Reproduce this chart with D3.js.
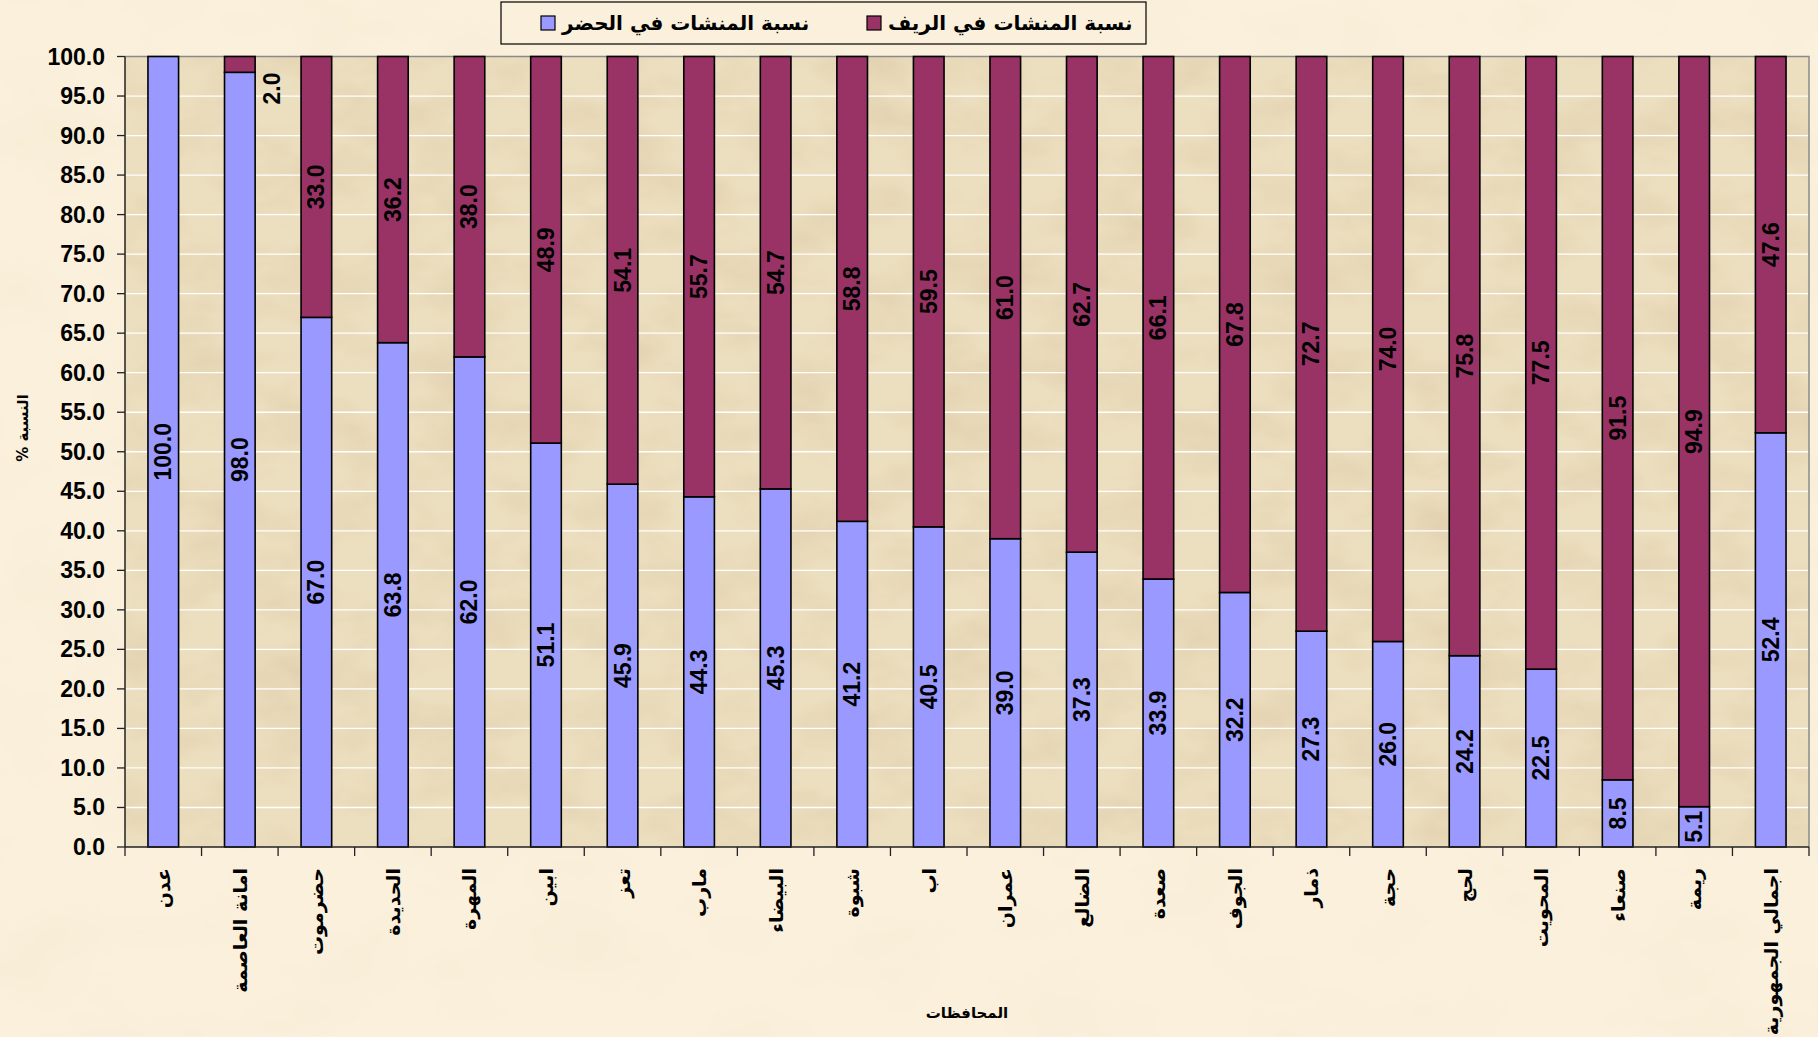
<!DOCTYPE html>
<html>
<head>
<meta charset="utf-8">
<script src="https://cdn.jsdelivr.net/npm/d3@7"></script>
<style>
  html, body { margin: 0; padding: 0; background: #f9eedb; }
  svg { display: block; }
</style>
</head>
<body>
<div id="chart"></div>
<script>
// المحافظات
const categories = ['عدن', 'امانة العاصمة', 'حضرموت', 'الحديدة', 'المهرة', 'ابين', 'تعز', 'مارب', 'البيضاء', 'شبوة', 'اب',
  'عمران', 'الضالع', 'صعدة', 'الجوف', 'ذمار', 'حجة', 'لحج', 'المحويت', 'صنعاء', 'ريمة', 'اجمالي الجمهورية']
// نسبة المنشات في الحضر
const urban = [100.0, 98.0, 67.0, 63.8, 62.0, 51.1, 45.9, 44.3, 45.3, 41.2, 40.5, 39.0, 37.3, 33.9, 32.2, 27.3, 26.0, 24.2, 22.5, 8.5, 5.1, 52.4]
// نسبة المنشات في الريف
const rural = [0.0, 2.0, 33.0, 36.2, 38.0, 48.9, 54.1, 55.7, 54.7, 58.8, 59.5, 61.0, 62.7, 66.1, 67.8, 72.7, 74.0, 75.8, 77.5, 91.5, 94.9, 47.6]
const seriesNames = ['نسبة المنشات في الحضر', 'نسبة المنشات في الريف']
const yTicks = [0, 5, 10, 15, 20, 25, 30, 35, 40, 45, 50, 55, 60, 65, 70, 75, 80, 85, 90, 95, 100]

const W = 1818
const H = 1037
const plotLeft = 125
const plotRight = 1809
const plotTop = 56.5
const plotBottom = 847
const colors = ['#9999ff', '#993366']
const numFont = '"Liberation Sans", Arial, sans-serif'
const arFont = '"DejaVu Sans", "Liberation Sans", sans-serif'

const svg = d3.select('#chart').append('svg')
  .attr('width', W)
  .attr('height', H)
  .attr('viewBox', `0 0 ${W} ${H}`)

const defs = svg.append('defs')
const paper = defs.append('filter').attr('id', 'paper')
  .attr('x', 0).attr('y', 0).attr('width', 1).attr('height', 1)
paper.append('feTurbulence')
  .attr('type', 'fractalNoise')
  .attr('baseFrequency', '0.012 0.02')
  .attr('numOctaves', 4)
  .attr('seed', 7)
paper.append('feColorMatrix')
  .attr('type', 'matrix')
  .attr('values', '0 0 0 0 0.72  0 0 0 0 0.58  0 0 0 0 0.38  1.1 0 0 0 -0.42')
const paperLight = defs.append('filter').attr('id', 'paperLight')
  .attr('x', 0).attr('y', 0).attr('width', 1).attr('height', 1)
paperLight.append('feTurbulence')
  .attr('type', 'fractalNoise')
  .attr('baseFrequency', '0.008 0.012')
  .attr('numOctaves', 3)
  .attr('seed', 2)
paperLight.append('feColorMatrix')
  .attr('type', 'matrix')
  .attr('values', '0 0 0 0 0.9  0 0 0 0 0.8  0 0 0 0 0.6  0.6 0 0 0 -0.25')

// page background
svg.append('rect').attr('width', W).attr('height', H).attr('fill', '#faf0dc')
svg.append('rect').attr('width', W).attr('height', H).attr('fill', '#fff').attr('filter', 'url(#paperLight)')

const x = d3.scaleBand().domain(categories).range([plotLeft, plotRight]).padding(0)
const y = d3.scaleLinear().domain([0, 100]).range([plotBottom, plotTop])
const barW = x.bandwidth() * 0.4

// plot area
svg.append('rect')
  .attr('x', plotLeft).attr('y', plotTop)
  .attr('width', plotRight - plotLeft).attr('height', plotBottom - plotTop)
  .attr('fill', '#ecdfbf')
svg.append('rect')
  .attr('x', plotLeft).attr('y', plotTop)
  .attr('width', plotRight - plotLeft).attr('height', plotBottom - plotTop)
  .attr('fill', '#fff')
  .attr('filter', 'url(#paper)')

// gridlines
svg.append('g')
  .selectAll('line')
  .data(yTicks.filter(d => d > 0 && d < 100))
  .join('line')
  .attr('x1', plotLeft).attr('x2', plotRight)
  .attr('y1', d => y(d)).attr('y2', d => y(d))
  .attr('stroke', '#ffffff')
  .attr('stroke-width', 1.3)

// plot border (top & right grey)
svg.append('path')
  .attr('d', `M${plotLeft},${plotTop}H${plotRight}V${plotBottom}`)
  .attr('fill', 'none')
  .attr('stroke', '#8a8a8a')
  .attr('stroke-width', 1.5)

// bars
const rows = categories.map((c, i) => ({ c, u: urban[i], r: rural[i] }))
const barG = svg.append('g')
rows.forEach(d => {
  const cx = x(d.c) + x.bandwidth() / 2
  const segs = [
    { v: d.u, y0: 0, y1: d.u, color: colors[0] },
    { v: d.r, y0: d.u, y1: d.u + d.r, color: colors[1] }
  ]
  segs.forEach(s => {
    if (s.v <= 0) return
    barG.append('rect')
      .attr('x', cx - barW / 2)
      .attr('y', y(s.y1))
      .attr('width', barW)
      .attr('height', y(s.y0) - y(s.y1))
      .attr('fill', s.color)
      .attr('stroke', '#000')
      .attr('stroke-width', 1.6)
  })
  segs.forEach(s => {
    if (s.v <= 0) return
    let lx = cx
    let ly = (y(s.y0) + y(s.y1)) / 2
    if (s.v < 4) {
      // too small to hold its label: put it beside the bar
      lx = cx + barW / 2 + 17
      ly = y(s.y1) + 32
    }
    barG.append('text')
      .attr('transform', `translate(${lx},${ly}) rotate(-90)`)
      .attr('text-anchor', 'middle')
      .attr('dominant-baseline', 'central')
      .attr('font-family', numFont)
      .attr('font-weight', 'bold')
      .attr('font-size', 23)
      .attr('fill', '#000')
      .text(d3.format('.1f')(s.v))
  })
})

// y axis
const yAxis = svg.append('g')
yAxis.append('line')
  .attr('x1', plotLeft).attr('x2', plotLeft)
  .attr('y1', plotTop).attr('y2', plotBottom)
  .attr('stroke', '#222').attr('stroke-width', 1.5)
yAxis.selectAll('.tk').data(yTicks).join('line')
  .attr('x1', plotLeft - 8).attr('x2', plotLeft)
  .attr('y1', d => y(d)).attr('y2', d => y(d))
  .attr('stroke', '#222').attr('stroke-width', 1.3)
yAxis.selectAll('text').data(yTicks).join('text')
  .attr('x', plotLeft - 20)
  .attr('y', d => y(d))
  .attr('text-anchor', 'end')
  .attr('dominant-baseline', 'central')
  .attr('font-family', numFont)
  .attr('font-weight', 'bold')
  .attr('font-size', 23)
  .text(d => d3.format('.1f')(d))

// x axis
const xAxis = svg.append('g')
xAxis.append('line')
  .attr('x1', plotLeft).attr('x2', plotRight)
  .attr('y1', plotBottom).attr('y2', plotBottom)
  .attr('stroke', '#222').attr('stroke-width', 1.5)
const bounds = categories.map(c => x(c)).concat([plotRight])
xAxis.selectAll('.tk').data(bounds).join('line')
  .attr('x1', d => d).attr('x2', d => d)
  .attr('y1', plotBottom).attr('y2', plotBottom + 9)
  .attr('stroke', '#222').attr('stroke-width', 1.3)
xAxis.selectAll('text').data(categories).join('text')
  .attr('transform', d => `translate(${x(d) + x.bandwidth() / 2},${plotBottom + 21}) rotate(-90)`)
  .attr('direction', 'rtl')
  .attr('text-anchor', 'start')
  .attr('dominant-baseline', 'central')
  .attr('font-family', arFont)
  .attr('font-weight', 'bold')
  .attr('font-size', 19)
  .text(d => d)

// axis titles
svg.append('text')
  .attr('x', 967).attr('y', 1013)
  .attr('text-anchor', 'middle')
  .attr('dominant-baseline', 'central')
  .attr('direction', 'rtl')
  .attr('font-family', arFont)
  .attr('font-weight', 'bold')
  .attr('font-size', 15)
  .text('المحافظات')
svg.append('text')
  .attr('transform', 'translate(23,428) rotate(-90)')
  .attr('text-anchor', 'middle')
  .attr('dominant-baseline', 'central')
  .attr('direction', 'rtl')
  .attr('font-family', arFont)
  .attr('font-weight', 'bold')
  .attr('font-size', 15)
  .text('النسبة %')

// legend
const lg = svg.append('g')
lg.append('rect')
  .attr('x', 501).attr('y', 2)
  .attr('width', 645).attr('height', 42)
  .attr('fill', '#faf0dc')
  .attr('stroke', '#000').attr('stroke-width', 1.2)
const legendX = [541, 867]
seriesNames.forEach((name, i) => {
  lg.append('rect')
    .attr('x', legendX[i]).attr('y', 16)
    .attr('width', 14).attr('height', 14)
    .attr('fill', colors[i])
    .attr('stroke', '#000').attr('stroke-width', 1.2)
  lg.append('text')
    .attr('x', legendX[i] + 21).attr('y', 23)
    .attr('text-anchor', 'start')
    .attr('dominant-baseline', 'central')
    .attr('font-family', arFont)
    .attr('font-weight', 'bold')
    .attr('font-size', 20)
    .text(name)
})
</script>
</body>
</html>
